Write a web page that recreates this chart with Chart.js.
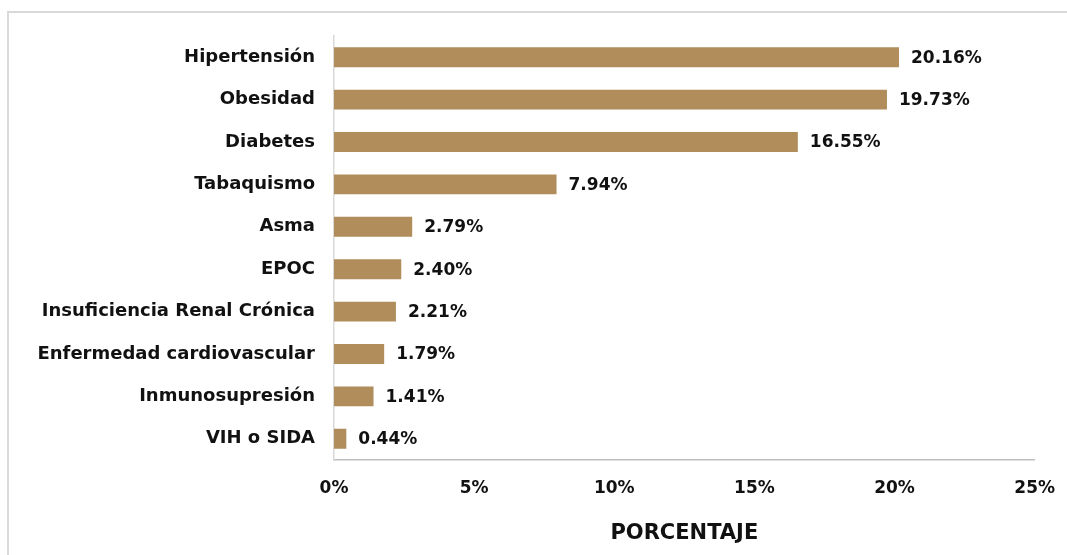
<!DOCTYPE html>
<html>
<head>
<meta charset="utf-8">
<script src="https://cdn.jsdelivr.net/npm/chart.js@4"></script>
<style>
  html, body { margin: 0; padding: 0; background: #fff; overflow: hidden; }
  #marco { position: absolute; left: 7px; top: 11px; width: 1100px; height: 600px;
           border-top: 2px solid #d9d9d9; border-left: 2px solid #d9d9d9; }
  #wrap { position: absolute; left: 0; top: 0; width: 1073px; height: 555px; }
</style>
</head>
<body>
<div id="marco"></div>
<div id="wrap"><canvas id="grafica" width="1073" height="555"></canvas></div>
<script>
// datos
const categorias = ['Hipertensión', 'Obesidad', 'Diabetes', 'Tabaquismo', 'Asma', 'EPOC',
  'Insuficiencia Renal Crónica', 'Enfermedad cardiovascular', 'Inmunosupresión', 'VIH o SIDA'];
const porcentajes = [20.16, 19.73, 16.55, 7.94, 2.79, 2.40, 2.21, 1.79, 1.41, 0.44];
const ticksX = [0, 5, 10, 15, 20, 25];

const fuente = '"DejaVu Sans", sans-serif';

// etiquetas al final de cada barra
const etiquetas = {
  id: 'etiquetas',
  afterDatasetsDraw(chart) {
    const ctx = chart.ctx;
    const meta = chart.getDatasetMeta(0);
    ctx.save();
    ctx.font = 'bold 17px ' + fuente;
    ctx.fillStyle = '#111';
    ctx.textAlign = 'left';
    ctx.textBaseline = 'middle';
    meta.data.forEach((bar, i) => {
      ctx.fillText(porcentajes[i].toFixed(2) + '%', bar.x + 12, bar.y + 1);
    });
    ctx.restore();
  }
};

new Chart(document.getElementById('grafica'), {
  type: 'bar',
  data: {
    labels: categorias,
    datasets: [{
      data: porcentajes,
      backgroundColor: '#B08D5B',
      borderWidth: 0,
      barPercentage: 0.47,
      categoryPercentage: 1
    }]
  },
  plugins: [etiquetas],
  options: {
    indexAxis: 'y',
    responsive: false,
    animation: false,
    layout: { padding: { top: 36, right: 0, left: 0, bottom: 0 } },
    plugins: { legend: { display: false }, tooltip: { enabled: false } },
    scales: {
      x: {
        min: 0, max: 25,
        afterBuildTicks: (s) => { s.ticks = ticksX.map(v => ({ value: v })); },
        afterFit: (s) => { s.height = 95; },
        grid: { display: false, drawTicks: false },
        border: { display: true, color: '#bfbfbf', width: 1.5 },
        ticks: {
          padding: 18,
          color: '#111',
          font: { family: fuente, size: 17, weight: 'bold' },
          callback: (v) => v + '%'
        },
        title: {
          display: true,
          text: 'PORCENTAJE',
          color: '#111',
          font: { family: fuente, size: 21, weight: 'bold' },
          padding: { top: 0, bottom: 9 }
        }
      },
      y: {
        afterFit: (s) => { s.width = 334; },
        grid: { display: false, drawTicks: false },
        border: { display: true, color: '#d9d9d9', width: 1.5 },
        ticks: {
          padding: 19,
          color: '#111',
          font: { family: fuente, size: 18, weight: 'bold' }
        }
      }
    }
  }
});
</script>
</body>
</html>
